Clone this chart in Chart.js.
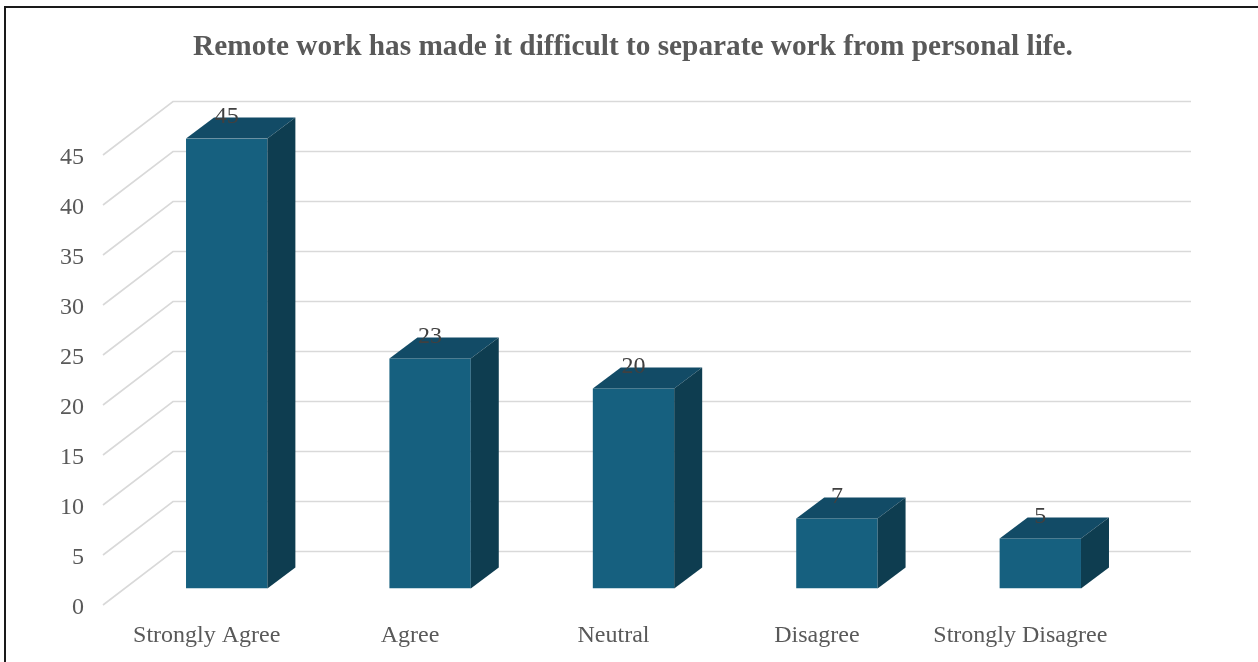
<!DOCTYPE html>
<html>
<head>
<meta charset="utf-8">
<title>Remote work survey</title>
<script src="https://cdn.jsdelivr.net/npm/chart.js@4"></script>
<style>
  html, body { margin: 0; padding: 0; background: #ffffff; }
  #wrap { position: relative; width: 1258px; height: 662px; }
</style>
</head>
<body>
<div id="wrap"><canvas id="surveyChart"></canvas></div>
<script>
// Survey answers and counts
const categories = ['Strongly Agree', 'Agree', 'Neutral', 'Disagree', 'Strongly Disagree'];
const responses = [45, 23, 20, 7, 5];
const yTicks = [0, 5, 10, 15, 20, 25, 30, 35, 40, 45];
const chartTitle = 'Remote work has made it difficult to separate work from personal life.';

const FRONT_COLOR = '#16607f';
const TOP_COLOR = '#124b66';
const SIDE_COLOR = '#0e3d50';
const GRID_COLOR = '#d9d9d9';
const TEXT_COLOR = '#595959';

// depth of a bar, and of the whole floor relative to the bar plane
const BAR_DX = 28, BAR_DY = -21;
const FRONT_DX = -22, FRONT_DY = 16.5;
const BACK_DX = 48, BACK_DY = -37;

const serif = '"Liberation Serif", "Times New Roman", serif';

// back wall + oblique side lines, drawn before bars
const wallGrid = {
    id: 'wallGrid',
    beforeDatasetsDraw(chart) {
        const ctx = chart.ctx;
        const area = chart.chartArea;
        const y = chart.scales.y;
        ctx.save();
        ctx.strokeStyle = GRID_COLOR;
        ctx.lineWidth = 1.6;
        yTicks.forEach(function(v) {
            const py = y.getPixelForValue(v);
            ctx.beginPath();
            ctx.moveTo(area.left + FRONT_DX, py + FRONT_DY);
            ctx.lineTo(area.left + BACK_DX, py + BACK_DY);
            ctx.lineTo(area.right + BACK_DX + 1, py + BACK_DY);
            ctx.stroke();
        });
        ctx.restore();
    }
};

// top and side faces of each bar + value labels
const boxFaces = {
    id: 'boxFaces',
    afterDatasetsDraw(chart) {
        const ctx = chart.ctx;
        const meta = chart.getDatasetMeta(0);
        ctx.save();
        meta.data.forEach(function(bar, i) {
            const l = bar.x - bar.width / 2;
            const r = bar.x + bar.width / 2;
            const t = bar.y;
            const b = bar.base;

            ctx.fillStyle = TOP_COLOR;
            ctx.beginPath();
            ctx.moveTo(l, t);
            ctx.lineTo(r, t);
            ctx.lineTo(r + BAR_DX, t + BAR_DY);
            ctx.lineTo(l + BAR_DX, t + BAR_DY);
            ctx.closePath();
            ctx.fill();

            ctx.fillStyle = SIDE_COLOR;
            ctx.beginPath();
            ctx.moveTo(r, t);
            ctx.lineTo(r + BAR_DX, t + BAR_DY);
            ctx.lineTo(r + BAR_DX, b + BAR_DY);
            ctx.lineTo(r, b);
            ctx.closePath();
            ctx.fill();

            ctx.fillStyle = '#404040';
            ctx.font = '24px ' + serif;
            ctx.textAlign = 'center';
            ctx.textBaseline = 'middle';
            ctx.fillText(String(responses[i]), bar.x, t - 21.5);
        });
        ctx.restore();
    }
};

// heading and outer frame (left and top edges visible)
const frame = {
    id: 'frame',
    afterDraw(chart) {
        const ctx = chart.ctx;
        ctx.save();
        ctx.fillStyle = TEXT_COLOR;
        ctx.font = 'bold 29.3px ' + serif;
        ctx.textAlign = 'center';
        ctx.textBaseline = 'alphabetic';
        ctx.fillText(chartTitle, 633, 55);

        ctx.strokeStyle = '#1a1a1a';
        ctx.lineWidth = 2;
        ctx.beginPath();
        ctx.moveTo(5, 670);
        ctx.lineTo(5, 7);
        ctx.lineTo(1265, 7);
        ctx.stroke();
        ctx.restore();
    }
};

new Chart(document.getElementById('surveyChart'), {
    type: 'bar',
    data: {
        labels: categories,
        datasets: [{
            data: responses,
            backgroundColor: FRONT_COLOR,
            borderWidth: 0,
            barPercentage: 0.4,
            categoryPercentage: 1.0
        }]
    },
    options: {
        responsive: true,
        maintainAspectRatio: false,
        animation: false,
        layout: {
            padding: { left: 8, right: 116, top: 138.5, bottom: 0 }
        },
        scales: {
            x: {
                grid: { display: false, drawTicks: false },
                border: { display: false },
                ticks: {
                    color: TEXT_COLOR,
                    font: { family: serif, size: 24 },
                    padding: 33,
                    labelOffset: -20,
                    maxRotation: 0,
                    autoSkip: false
                },
                afterFit: function(scale) { scale.height = 73.5; }
            },
            y: {
                min: 0,
                max: 45,
                grid: { display: false, drawTicks: false },
                border: { display: false },
                ticks: {
                    stepSize: 5,
                    color: TEXT_COLOR,
                    font: { family: serif, size: 24 },
                    padding: 41,
                    labelOffset: 19
                },
                afterFit: function(scale) { scale.width = 117; }
            }
        },
        plugins: {
            legend: { display: false },
            tooltip: { enabled: false },
            title: { display: false }
        }
    },
    plugins: [wallGrid, boxFaces, frame]
});
</script>
</body>
</html>
